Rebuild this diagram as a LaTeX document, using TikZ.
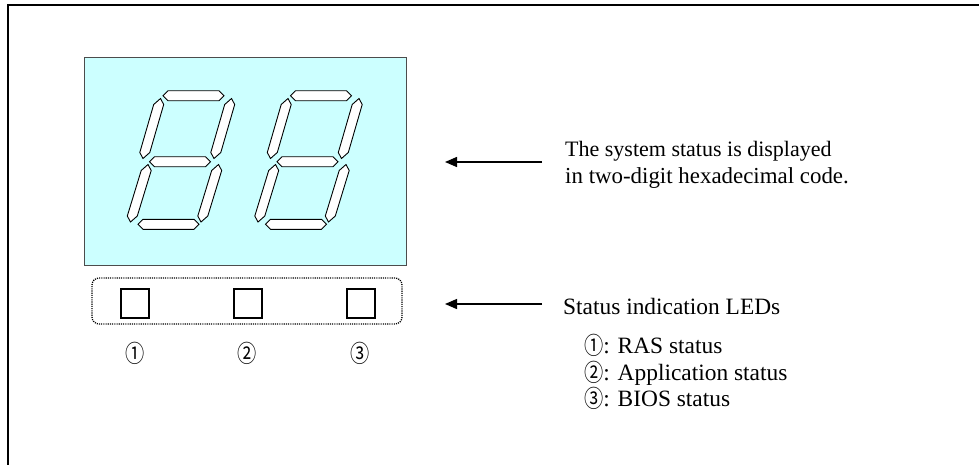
\documentclass[tikz,border=0pt]{standalone}
\usepackage{fontspec}
\usepackage{graphicx}
\setmainfont{Liberation Serif}
\newfontfamily\circfont{Noto Sans CJK JP}
\usetikzlibrary{arrows.meta}
\definecolor{dispcyan}{RGB}{204,255,255}
\newcommand\circd[1]{\raisebox{-1pt}{\scalebox{0.8}[1]{\circfont\fontsize{24}{28}\selectfont #1}}}
\tikzset{
  seg/.style={fill=white, draw=black, line width=0.9pt, line join=miter},
  ledsq/.style={draw=black, line width=2pt, minimum width=28pt, minimum height=29pt, inner sep=0pt},
  txt/.style={inner sep=0pt, anchor=base west, font=\fontsize{22}{26}\selectfont},
  txtb/.style={txt, font=\fontsize{23.4}{27}\selectfont},
  circlbl/.style={inner sep=0pt},
  pointer/.style={line width=1.4pt, -{Triangle[length=12pt,width=10pt]}},
}
\newcommand\hsegm[3]{\filldraw[seg] (#1,#3) -- ({#1+5},{#3-5}) -- ({#2-5},{#3-5}) -- (#2,#3) -- ({#2-5},{#3+5}) -- ({#1+5},{#3+5}) -- cycle;}
\newcommand\vsegm[4]{\filldraw[seg] (#1,#2) -- ({#1+3.2},{#2+6}) -- ({#3+6.8},{#4-6}) -- (#3,#4) -- ({#3-3.2},{#4-6}) -- ({#1-6.8},{#2+6}) -- cycle;}
\newcommand\sevendigit[1]{%
  \begin{scope}[xshift=#1pt]
    \hsegm{163}{224}{95.7}
    \hsegm{149.5}{210.5}{161.7}
    \hsegm{138}{199}{224.3}
    \vsegm{160.5}{98.5}{143}{158.5}
    \vsegm{231.5}{98.5}{214}{158.5}
    \vsegm{148}{164.5}{130.5}{222}
    \vsegm{218.5}{164.5}{201}{222}
  \end{scope}}
\begin{document}
\begin{tikzpicture}[x=1pt,y=-1pt]
  \useasboundingbox (0,0) rectangle (979,464);
  % outer frame (only top and left edges visible)
  \draw[line width=1.5pt] (995,5) -- (8,5) -- (8,480);
  % display
  \node[draw=black!70, line width=0.8pt, fill=dispcyan, minimum width=322pt, minimum height=208pt, inner sep=0pt] (disp) at (245,161) {};
  \sevendigit{0}
  \sevendigit{127.5}
  % LED group
  \node[draw=black, line width=1.3pt, dash pattern=on 1.1pt off 1.1pt, rounded corners=7pt, minimum width=310pt, minimum height=46pt, inner sep=0pt] (ledbox) at (247,301) {};
  \node[ledsq] (led1) at (135,303.5) {};
  \node[ledsq] (led2) at (247.5,303.5) {};
  \node[ledsq] (led3) at (360.5,303.5) {};
  \node[circlbl] (n1) at (135,353) {\circd{①}};
  \node[circlbl] (n2) at (247.5,353) {\circd{②}};
  \node[circlbl] (n3) at (360.5,353) {\circd{③}};
  % texts
  \node[txt] (t1) at (565,156.7) {The system status is displayed};
  \node[txt, font=\fontsize{22.9}{27}\selectfont] (t2) at (565,183.3) {in two-digit hexadecimal code.};
  \node[txtb] (t3) at (563,314) {Status indication LEDs};
  \node[txtb] (t4) at (584,353.3) {\circd{①}: RAS status};
  \node[txtb] (t5) at (584,380) {\circd{②}: Application status};
  \node[txtb] (t6) at (584,406.7) {\circd{③}: BIOS status};
  % arrows
  \coordinate (a1s) at (542,162);
  \coordinate (a1e) at (445,162);
  \coordinate (a2s) at (542,304);
  \coordinate (a2e) at (445,304);
  \draw[pointer] (a1s) -- (a1e);
  \draw[pointer] (a2s) -- (a2e);
\end{tikzpicture}
\end{document}
